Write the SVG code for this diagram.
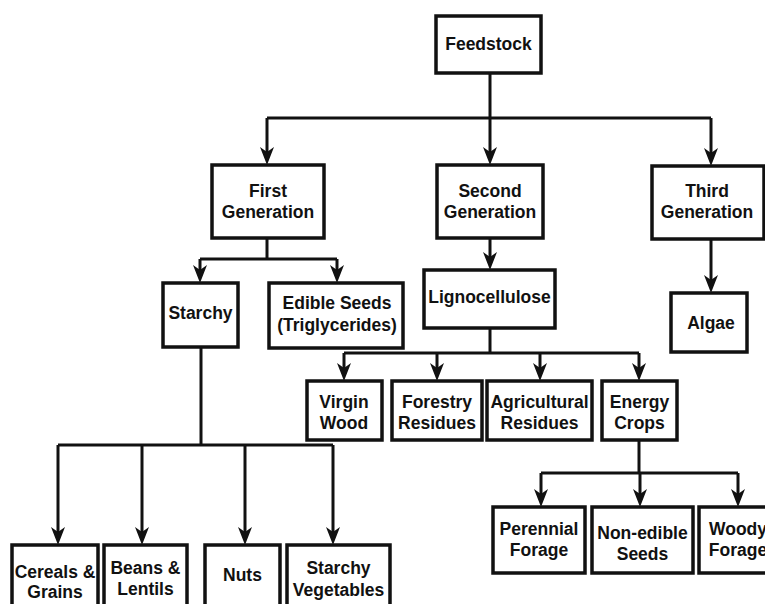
<svg xmlns="http://www.w3.org/2000/svg" width="765" height="604" viewBox="0 0 765 604">
<style>
.box{fill:#fff;stroke:#111;stroke-width:3.5}
.t{font-family:"Liberation Sans",Arial,sans-serif;font-weight:bold;font-size:17.5px;fill:#111;text-anchor:middle}
.c{fill:none;stroke:#111;stroke-width:3}
</style>
<defs>
<marker id="ah" viewBox="0 0 18 14" refX="12" refY="7" markerWidth="18" markerHeight="14" markerUnits="userSpaceOnUse" orient="auto">
<path d="M0,0 L18,7 L0,14 L5,7 z" fill="#111"/>
</marker>
</defs>
<rect width="765" height="604" fill="#fff"/>
<g id="connectors">
<path class="c" d="M490,73 V118"/>
<path class="c" d="M267,118 H711"/>
<path class="c" d="M267,118 V159" marker-end="url(#ah)"/>
<path class="c" d="M490,118 V159" marker-end="url(#ah)"/>
<path class="c" d="M711,118 V160" marker-end="url(#ah)"/>
<path class="c" d="M711,239 V287" marker-end="url(#ah)"/>
<path class="c" d="M490,238 V264" marker-end="url(#ah)"/>
<path class="c" d="M267,238 V259"/>
<path class="c" d="M200,259 H337"/>
<path class="c" d="M200,259 V277" marker-end="url(#ah)"/>
<path class="c" d="M337,259 V277" marker-end="url(#ah)"/>
<path class="c" d="M490,328 V353"/>
<path class="c" d="M344,353 H639"/>
<path class="c" d="M344,353 V375" marker-end="url(#ah)"/>
<path class="c" d="M437,353 V375" marker-end="url(#ah)"/>
<path class="c" d="M540,353 V375" marker-end="url(#ah)"/>
<path class="c" d="M639,353 V375" marker-end="url(#ah)"/>
<path class="c" d="M201,347 V445"/>
<path class="c" d="M58,445 H333"/>
<path class="c" d="M58,445 V539" marker-end="url(#ah)"/>
<path class="c" d="M142,445 V539" marker-end="url(#ah)"/>
<path class="c" d="M245,445 V539" marker-end="url(#ah)"/>
<path class="c" d="M333,445 V539" marker-end="url(#ah)"/>
<path class="c" d="M639,440 V473"/>
<path class="c" d="M541,473 H738"/>
<path class="c" d="M541,473 V501" marker-end="url(#ah)"/>
<path class="c" d="M640,473 V501" marker-end="url(#ah)"/>
<path class="c" d="M738,473 V501" marker-end="url(#ah)"/>
</g>
<g id="feedstock"><rect class="box" x="436" y="16" width="105" height="57"/><text class="t" x="488.5" y="50">Feedstock</text></g>
<g id="first-gen"><rect class="box" x="212" y="165" width="112" height="73"/><text class="t" x="268" y="197">First</text><text class="t" x="268" y="218">Generation</text></g>
<g id="second-gen"><rect class="box" x="437" y="165" width="106" height="73"/><text class="t" x="490" y="197">Second</text><text class="t" x="490" y="218">Generation</text></g>
<g id="third-gen"><rect class="box" x="652" y="166" width="112" height="73"/><text class="t" x="707" y="197">Third</text><text class="t" x="707" y="218">Generation</text></g>
<g id="algae"><rect class="box" x="671" y="293" width="76" height="59"/><text class="t" x="711" y="329">Algae</text></g>
<g id="lignocellulose"><rect class="box" x="424" y="270" width="131" height="58"/><text class="t" x="489.5" y="303">Lignocellulose</text></g>
<g id="starchy"><rect class="box" x="163" y="283" width="75" height="64"/><text class="t" x="200.5" y="319">Starchy</text></g>
<g id="edible-seeds"><rect class="box" x="269" y="283" width="134" height="65"/><text class="t" x="337" y="309">Edible Seeds</text><text class="t" x="337" y="331">(Triglycerides)</text></g>
<g id="virgin-wood"><rect class="box" x="307" y="381" width="75" height="59"/><text class="t" x="344" y="408">Virgin</text><text class="t" x="344" y="429">Wood</text></g>
<g id="forestry"><rect class="box" x="392" y="381" width="90" height="59"/><text class="t" x="437" y="408">Forestry</text><text class="t" x="437" y="429">Residues</text></g>
<g id="agricultural"><rect class="box" x="487" y="381" width="105" height="59"/><text class="t" x="539.5" y="408">Agricultural</text><text class="t" x="539.5" y="429">Residues</text></g>
<g id="energy-crops"><rect class="box" x="602" y="381" width="75" height="59"/><text class="t" x="639.5" y="408">Energy</text><text class="t" x="639.5" y="429">Crops</text></g>
<g id="perennial"><rect class="box" x="493" y="507" width="92" height="66"/><text class="t" x="539" y="535">Perennial</text><text class="t" x="539" y="556">Forage</text></g>
<g id="non-edible"><rect class="box" x="592" y="507" width="101" height="66"/><text class="t" x="642.5" y="539">Non-edible</text><text class="t" x="642.5" y="560">Seeds</text></g>
<g id="woody"><rect class="box" x="699" y="507" width="78" height="66"/><text class="t" x="738" y="535">Woody</text><text class="t" x="738" y="556">Forage</text></g>
<g id="cereals"><rect class="box" x="12" y="545" width="86" height="70"/><text class="t" x="55" y="578">Cereals &amp;</text><text class="t" x="55" y="598">Grains</text></g>
<g id="beans"><rect class="box" x="104" y="545" width="83" height="70"/><text class="t" x="145.5" y="574">Beans &amp;</text><text class="t" x="145.5" y="595">Lentils</text></g>
<g id="nuts"><rect class="box" x="205" y="545" width="75" height="70"/><text class="t" x="242.5" y="581">Nuts</text></g>
<g id="starchy-veg"><rect class="box" x="287" y="545" width="103" height="70"/><text class="t" x="338.5" y="574">Starchy</text><text class="t" x="338.5" y="596">Vegetables</text></g>
</svg>
